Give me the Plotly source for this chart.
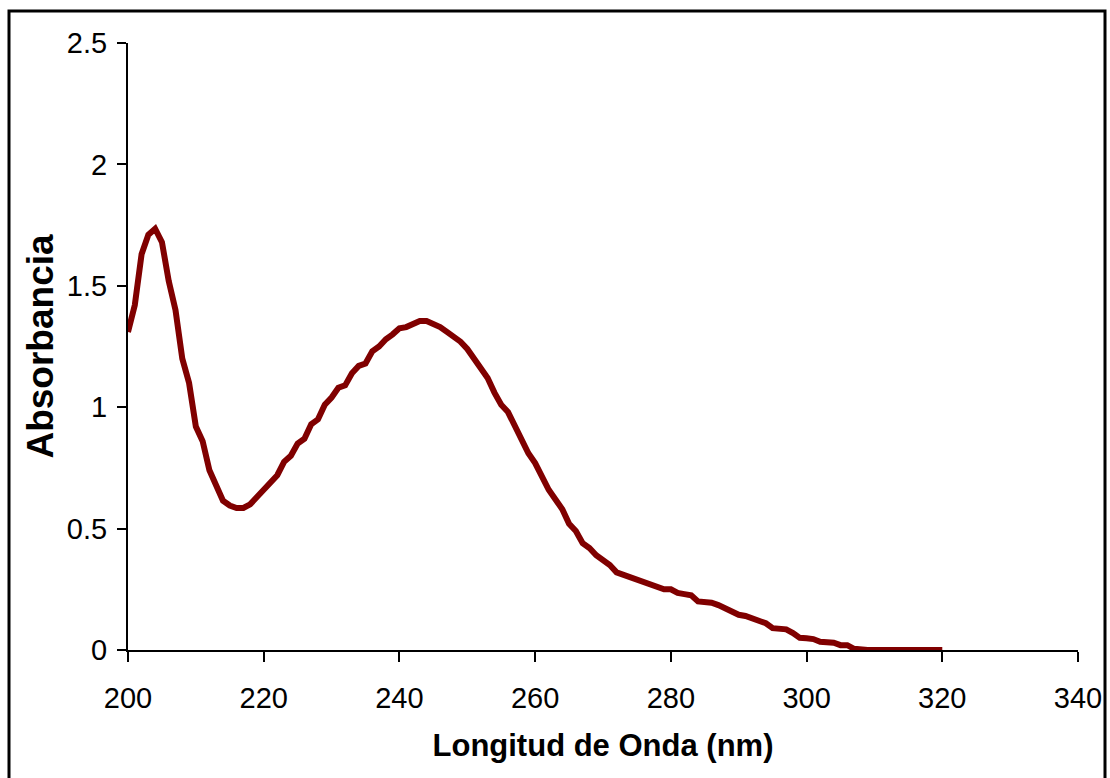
import plotly.graph_objects as go

wavelength = list(range(200, 321))
absorbance = [
    1.31, 1.42, 1.63, 1.71, 1.735, 1.68, 1.52, 1.40, 1.20, 1.10,
    0.92, 0.86, 0.74, 0.68, 0.615, 0.595, 0.585, 0.585, 0.60, 0.63,
    0.66, 0.69, 0.72, 0.775, 0.80, 0.85, 0.87, 0.93, 0.95, 1.01,
    1.04, 1.08, 1.09, 1.14, 1.17, 1.18, 1.23, 1.25, 1.28, 1.30,
    1.325, 1.33, 1.345, 1.355, 1.355, 1.343, 1.33, 1.31, 1.29, 1.27,
    1.24, 1.20, 1.15, 1.12, 1.06, 1.01, 0.98, 0.92, 0.87, 0.81,
    0.77, 0.71, 0.66, 0.62, 0.58, 0.52, 0.49, 0.44, 0.42, 0.39,
    0.37, 0.35, 0.32, 0.31, 0.305, 0.29, 0.28, 0.275, 0.26, 0.25,
    0.25, 0.235, 0.23, 0.225, 0.20, 0.20, 0.195, 0.185, 0.17, 0.16,
    0.145, 0.14, 0.13, 0.125, 0.11, 0.09, 0.085, 0.085, 0.07, 0.05,
    0.048, 0.045, 0.034, 0.034, 0.03, 0.02, 0.02, 0.005, 0.0, 0.0,
    0.0, 0.0, 0.0, 0.0, 0.0, 0.0, 0.0, 0.0, 0.0, 0.0,
    0.0,
]

x_ticks = [200, 220, 240, 260, 280, 300, 320, 340]
y_ticks = [0, 0.5, 1, 1.5, 2, 2.5]
y_tick_text = ["0", "0.5", "1", "1.5", "2", "2.5"]

FONT = "Liberation Sans, Arial, sans-serif"

fig = go.Figure()
fig.add_trace(go.Scatter(
    x=wavelength, y=absorbance, mode="lines",
    line=dict(color="#800000", width=6),
    showlegend=False, hoverinfo="skip",
))

fig.update_layout(
    width=1110, height=778,
    margin=dict(l=128, r=32, t=43, b=128),
    paper_bgcolor="white", plot_bgcolor="white",
    font=dict(family=FONT, color="black"),
    xaxis=dict(
        range=[200, 340], tickmode="array", tickvals=x_ticks, automargin=False,
        showgrid=False, zeroline=False, showline=True, linecolor="black", linewidth=2,
        ticks="outside", ticklen=10, tickwidth=2, tickcolor="black",
        tickfont=dict(size=29, family=FONT), ticklabelstandoff=11,
        title=dict(text="<b>Longitud de Onda (nm)</b>", font=dict(size=31, family=FONT), standoff=22),
    ),
    yaxis=dict(
        range=[0, 2.5], tickmode="array", tickvals=y_ticks, ticktext=y_tick_text, automargin=False,
        showgrid=False, zeroline=False, showline=True, linecolor="black", linewidth=2,
        ticks="outside", ticklen=9, tickwidth=2, tickcolor="black",
        tickfont=dict(size=29, family=FONT), ticklabelstandoff=4,
        title=dict(text="<b>Absorbancia</b>", font=dict(size=37, family=FONT), standoff=2),
    ),
    shapes=[dict(
        type="rect", xref="paper", yref="paper",
        x0=(9 - 128) / 950, x1=(1105 - 128) / 950,
        y0=(650 - 790) / 607, y1=(650 - 11) / 607,
        line=dict(color="black", width=3), fillcolor="rgba(0,0,0,0)",
        layer="below",
    )],
)

fig.write_html("out.html")
